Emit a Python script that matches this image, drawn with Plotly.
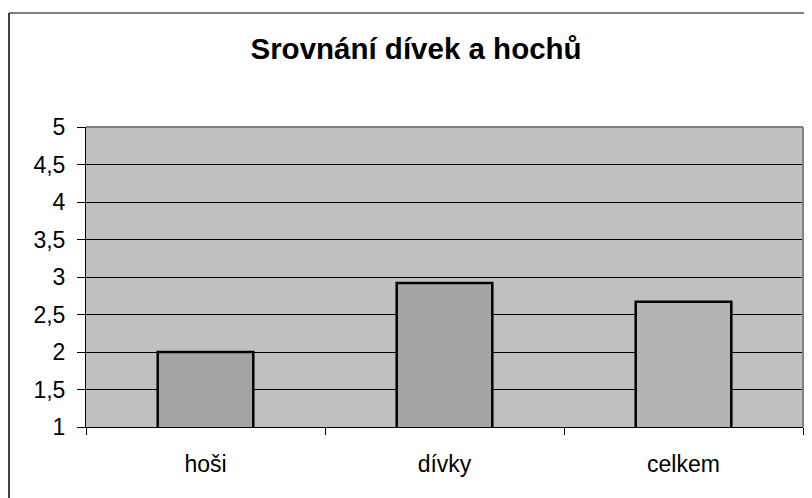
import plotly.graph_objects as go

categories = ["hoši", "dívky", "celkem"]
values = [2.0, 2.92, 2.67]
bar_colors = ["#A4A4A4", "#A5A5A5", "#B3B3B3"]
y_ticks = [1, 1.5, 2, 2.5, 3, 3.5, 4, 4.5, 5]
y_tick_labels = ["1", "1,5", "2", "2,5", "3", "3,5", "4", "4,5", "5"]
title_text = "Srovnání dívek a hochů"

FONT = "Liberation Sans, Arial, sans-serif"

fig = go.Figure()
fig.add_trace(go.Bar(
    x=categories, y=values,
    marker=dict(color=bar_colors, line=dict(color="black", width=2.5)),
    width=0.4,
))

fig.update_layout(
    width=804, height=490,
    margin=dict(l=78, r=9, t=119, b=71),
    paper_bgcolor="white",
    plot_bgcolor="#C0C0C0",
    showlegend=False,
    separators=", ",
    title=dict(text="<b>" + title_text + "</b>", x=0.5075, xanchor="center",
               y=0.916, yanchor="middle", yref="container",
               font=dict(family=FONT, size=29.5, color="black")),
    font=dict(family=FONT, size=24, color="black"),
    xaxis=dict(
        showline=True, linecolor="black", linewidth=1,
        ticks="outside", tickson="boundaries", ticklen=7, tickcolor="black",
        ticklabelstandoff=16, showgrid=False,
        tickfont=dict(family=FONT, size=23, color="black"),
    ),
    yaxis=dict(
        range=[1, 5], tickvals=y_ticks, ticktext=y_tick_labels,
        showline=True, linecolor="black", linewidth=1,
        ticks="outside", ticklen=8, tickcolor="black",
        ticklabelstandoff=7,
        showgrid=True, gridcolor="black", gridwidth=1,
        zeroline=False,
        tickfont=dict(family=FONT, size=23, color="black"),
    ),
    shapes=[
        dict(type="line", xref="paper", yref="paper", x0=0, x1=1, y0=1, y1=1,
             line=dict(color="#808080", width=2), layer="above"),
        dict(type="line", xref="paper", yref="paper", x0=1, x1=1, y0=0, y1=1,
             line=dict(color="#808080", width=2), layer="above"),
        dict(type="line", xref="paper", yref="paper", x0=-0.1074, x1=-0.1074,
             y0=1.38, y1=-0.25, line=dict(color="black", width=1.5), layer="above"),
        dict(type="line", xref="paper", yref="paper", x0=-0.1074, x1=1.03,
             y0=1.38, y1=1.38, line=dict(color="#555555", width=1.5), layer="above"),
    ],
)

fig.write_html("out.html")
